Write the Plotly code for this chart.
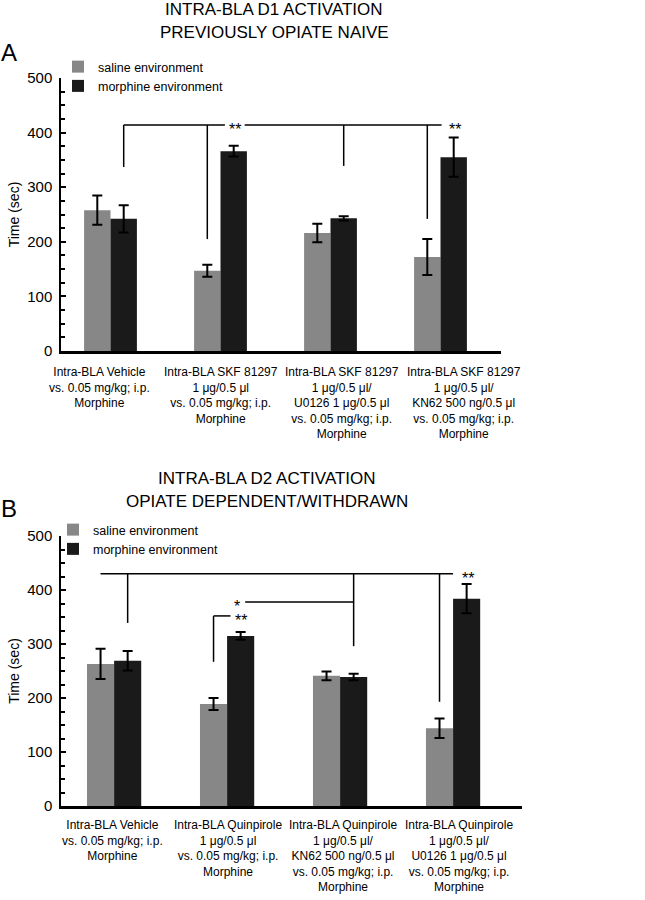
import plotly.graph_objects as go

# ---------------- data ----------------
groups = ["g1", "g2", "g3", "g4"]

labels_A = [
    "Intra-BLA Vehicle<br>vs. 0.05 mg/kg; i.p.<br>Morphine",
    "Intra-BLA SKF 81297<br>1 μg/0.5 μl<br>vs. 0.05 mg/kg; i.p.<br>Morphine",
    "Intra-BLA SKF 81297<br>1 μg/0.5 μl/<br>U0126 1 μg/0.5 μl<br>vs. 0.05 mg/kg; i.p.<br>Morphine",
    "Intra-BLA SKF 81297<br>1 μg/0.5 μl/<br>KN62 500 ng/0.5 μl<br>vs. 0.05 mg/kg; i.p.<br>Morphine",
]
labels_B = [
    "Intra-BLA Vehicle<br>vs. 0.05 mg/kg; i.p.<br>Morphine",
    "Intra-BLA Quinpirole<br>1 μg/0.5 μl<br>vs. 0.05 mg/kg; i.p.<br>Morphine",
    "Intra-BLA Quinpirole<br>1 μg/0.5 μl/<br>KN62 500 ng/0.5 μl<br>vs. 0.05 mg/kg; i.p.<br>Morphine",
    "Intra-BLA Quinpirole<br>1 μg/0.5 μl/<br>U0126 1 μg/0.5 μl<br>vs. 0.05 mg/kg; i.p.<br>Morphine",
]

saline_A = [258, 147, 216, 172]
saline_A_err = [27, 11, 17, 33]
morph_A = [242, 366, 243, 355]
morph_A_err = [25, 10, 4, 36]

saline_B = [263, 189, 241, 144]
saline_B_err = [28, 11, 8, 18]
morph_B = [269, 315, 239, 384]
morph_B_err = [18, 7, 6, 27]

y_ticks = [0, 100, 200, 300, 400, 500]

# ---------------- style ----------------
FONT = "Liberation Sans, Arial, sans-serif"
GRAY = "#878787"
BLACK = "#1a1a1a"
W, H = 645, 900


def py(sy):
    return 1 - sy / H


def pxx(sx):
    return sx / W


fig = go.Figure()

err_style = dict(type="data", color="black", thickness=2, width=5)

fig.add_trace(go.Bar(x=groups, y=saline_A, name="saline environment", marker_color=GRAY,
                     marker_line_width=0, error_y=dict(array=saline_A_err, **err_style),
                     xaxis="x", yaxis="y", legend="legend"))
fig.add_trace(go.Bar(x=groups, y=morph_A, name="morphine environment", marker_color=BLACK,
                     marker_line_width=0, error_y=dict(array=morph_A_err, **err_style),
                     xaxis="x", yaxis="y", legend="legend"))
fig.add_trace(go.Bar(x=groups, y=saline_B, name="saline environment", marker_color=GRAY,
                     marker_line_width=0, error_y=dict(array=saline_B_err, **err_style),
                     xaxis="x2", yaxis="y2", legend="legend2"))
fig.add_trace(go.Bar(x=groups, y=morph_B, name="morphine environment", marker_color=BLACK,
                     marker_line_width=0, error_y=dict(array=morph_B_err, **err_style),
                     xaxis="x2", yaxis="y2", legend="legend2"))

xcommon = dict(type="category", showline=True, linewidth=2.5, linecolor="black",
               ticks="", showgrid=False, zeroline=False, showticklabels=False,
               automargin=False)
ycommon = dict(range=[0, 500], tickvals=y_ticks, showline=True, linewidth=1.5,
               linecolor="black", ticks="inside", ticklen=5, tickwidth=1.5,
               tickcolor="black", showgrid=False, zeroline=False, automargin=False,
               minor=dict(dtick=25, ticks="inside", ticklen=4, tickwidth=1.5, tickcolor="black"),
               tickfont=dict(family=FONT, size=15, color="black"), ticklabelstandoff=4,
               title=dict(text="Time (sec)", font=dict(family=FONT, size=14, color="black"), standoff=4))

fig.update_layout(
    width=W, height=H,
    margin=dict(l=0, r=0, t=0, b=0, autoexpand=False),
    paper_bgcolor="white", plot_bgcolor="white",
    barmode="group", bargap=0.52, bargroupgap=0,
    font=dict(family=FONT, color="black"),
    xaxis=dict(domain=[pxx(61), pxx(501)], range=[-0.45, 3.55], anchor="y", **xcommon),
    yaxis=dict(domain=[py(351), py(78)], anchor="x", **ycommon),
    xaxis2=dict(domain=[pxx(61), pxx(522)], range=[-0.47, 3.61], anchor="y2", **xcommon),
    yaxis2=dict(domain=[py(806), py(536)], anchor="x2", **ycommon),
    legend=dict(x=pxx(58), y=py(52), xanchor="left", yanchor="top",
                font=dict(family=FONT, size=12.5, color="black"), bgcolor="rgba(0,0,0,0)",
                tracegroupgap=0, itemclick=False),
    legend2=dict(x=pxx(53), y=py(515), xanchor="left", yanchor="top",
                 font=dict(family=FONT, size=12.5, color="black"), bgcolor="rgba(0,0,0,0)",
                 tracegroupgap=0, itemclick=False),
)

# category labels under each panel (evenly spaced, as in the reference)
for i, lab in enumerate(labels_A):
    fig.add_annotation(text=lab, x=pxx(99 + 121.7 * i), y=py(363), xref="paper", yref="paper",
                       xanchor="center", yanchor="top", showarrow=False, align="center",
                       font=dict(family=FONT, size=12, color="black"))
for i, lab in enumerate(labels_B):
    fig.add_annotation(text=lab, x=pxx(112 + 115.5 * i), y=py(816), xref="paper", yref="paper",
                       xanchor="center", yanchor="top", showarrow=False, align="center",
                       font=dict(family=FONT, size=12, color="black"))

# titles and panel letters
texts = [
    ("INTRA-BLA D1 ACTIVATION", 274, 10, 17),
    ("PREVIOUSLY OPIATE NAIVE", 274, 33, 17),
    ("INTRA-BLA D2 ACTIVATION", 267, 478, 17),
    ("OPIATE DEPENDENT/WITHDRAWN", 267, 501, 17),
]
for t, x, y, s in texts:
    fig.add_annotation(text=t, x=pxx(x), y=py(y), xref="paper", yref="paper",
                       xanchor="center", yanchor="middle", showarrow=False,
                       font=dict(family=FONT, size=s, color="black"))
for t, y in [("A", 52), ("B", 508)]:
    fig.add_annotation(text=t, x=pxx(-1), y=py(y), xref="paper", yref="paper",
                       xanchor="left", yanchor="middle", showarrow=False,
                       font=dict(family=FONT, size=24, color="black"))

# significance brackets (x in category units: saline bar = -0.12, morphine bar = +0.12)
SAL, MOR = -0.12, 0.12
LW = 1.5


def hline(x0, x1, y, ax):
    fig.add_shape(type="line", x0=x0, x1=x1, y0=y, y1=y, xref=ax[0], yref=ax[1],
                  line=dict(color="black", width=LW))


def vline(x, y0, y1, ax):
    fig.add_shape(type="line", x0=x, x1=x, y0=y0, y1=y1, xref=ax[0], yref=ax[1],
                  line=dict(color="black", width=LW))


def stars(t, x, y, ax):
    fig.add_annotation(text=t, x=x, y=y, xref=ax[0], yref=ax[1], showarrow=False,
                       xanchor="center", yanchor="middle", yshift=-5,
                       font=dict(family=FONT, size=16, color="black"))


A = ("x", "y")
B = ("x2", "y2")

# Panel A
yA = 414
hline(0 + MOR, 1.04, yA, A)
hline(1.22, 3.01, yA, A)
vline(0 + MOR, yA, 337, A)
vline(1 + SAL, yA, 205, A)
vline(2 + MOR, yA, 339, A)
vline(3 + SAL, yA, 242, A)
stars("**", 1.13, yA, A)
stars("**", 3.13, yA, A)

# Panel B
yB1 = 430
hline(0 + SAL, 3.0, yB1, B)
vline(0 + MOR, yB1, 339, B)
vline(2 + MOR, yB1, 296, B)
vline(3 + SAL, yB1, 193, B)
stars("**", 3.13, yB1, B)

yB2 = 378
hline(1.16, 2 + MOR, yB2, B)
stars("*", 1.09, yB2, B)

yB3 = 352
hline(1 + SAL, 1.03, yB3, B)
vline(1 + SAL, yB3, 267, B)
stars("**", 1.12, yB3, B)

fig.write_html("out.html", config={"displayModeBar": False},
               post_script="document.body.style.margin='0px';")
